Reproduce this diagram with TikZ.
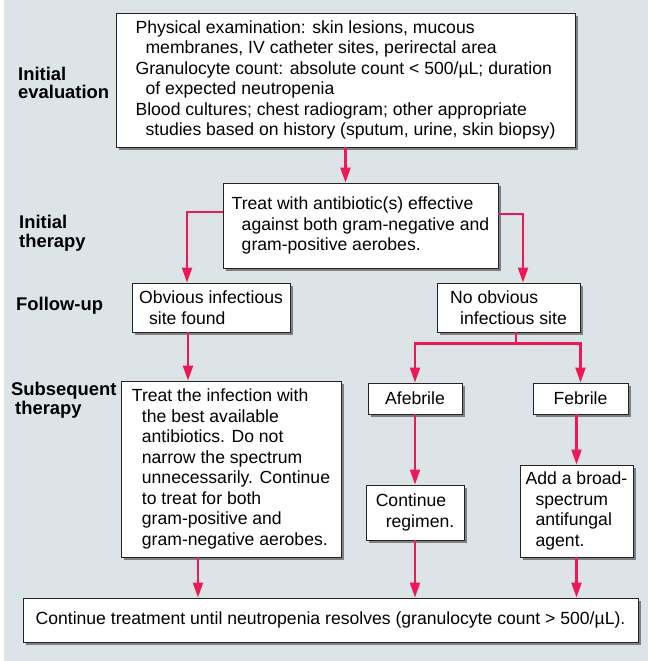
\documentclass[tikz,border=0pt]{standalone}
\usepackage{fontspec}
\setmainfont{Liberation Sans}
\usetikzlibrary{arrows.meta, positioning, shadows}
\definecolor{panelgray}{RGB}{221,228,232}
\definecolor{flowred}{RGB}{236,25,85}
\definecolor{shadowgray}{RGB}{125,128,132}
\definecolor{edgegray}{RGB}{35,35,35}
\newcommand{\ind}{\hspace*{10pt}}

\begin{document}
\begin{tikzpicture}[
  x=1pt, y=-1pt,
  box/.style={rectangle, draw=edgegray, line width=0.9pt, fill=white,
              align=left, inner sep=0pt,
              font=\fontsize{17.6}{20.5}\selectfont,
              drop shadow={shadow xshift=3pt, shadow yshift=-3pt, fill=shadowgray, opacity=1}},
  stage/.style={anchor=west, align=left, inner sep=0pt,
                font=\bfseries\fontsize{18.4}{18.5}\selectfont},
  arrow/.style={-{Triangle[length=15pt, width=10pt]}, line width=2.2pt, color=flowred}
]
  \useasboundingbox (0,0) rectangle (648,661);
  \fill[panelgray] (4,0) rectangle (648,661);

  % Boxes
  \node[box, minimum width=459pt, minimum height=134pt] (exam) at (345.5,80)
    {Physical examination: skin lesions, mucous\\
     \ind membranes, IV catheter sites, perirectal area\\
     Granulocyte count: absolute count < 500/µL; duration\\
     \ind of expected neutropenia\\
     Blood cultures; chest radiogram; other appropriate\\
     \ind studies based on history (sputum, urine, skin biopsy)};
  \node[box, minimum width=275pt, minimum height=85pt] (abx) at (360.5,225.5)
    {Treat with antibiotic(s) effective\\
     \ind against both gram-negative and\\
     \ind gram-positive aerobes.};
  \node[box, minimum width=158pt, minimum height=49pt] (site) at (211,307.5)
    {Obvious infectious\\ \ind site found};
  \node[box, minimum width=143pt, minimum height=49pt] (nosite) at (508.5,307.5)
    {No obvious\\ \ind infectious site};
  \node[box, minimum width=220pt, minimum height=176pt] (treat) at (231,469)
    {Treat the infection with\\
     \ind the best available\\
     \ind antibiotics. Do not\\
     \ind narrow the spectrum\\
     \ind unnecessarily. Continue\\
     \ind to treat for both\\
     \ind gram-positive and\\
     \ind gram-negative aerobes.};
  \node[box, minimum width=94pt, minimum height=31pt] (afeb) at (415,398.5) {Afebrile};
  \node[box, minimum width=95pt, minimum height=31pt] (feb) at (580.5,398.5) {Febrile};
  \node[box, minimum width=98pt, minimum height=55pt] (regimen) at (415,512.5)
    {Continue\\ \ind regimen.};
  \node[box, minimum width=113pt, minimum height=92pt] (antifungal) at (576.5,511)
    {Add a broad-\\ \ind spectrum\\ \ind antifungal\\ \ind agent.};
  \node[box, minimum width=615pt, minimum height=44pt] (resolve) at (330.5,620)
    {Continue treatment until neutropenia resolves (granulocyte count > 500/µL).};

  % Stage labels
  \node[stage] (lbleval) at (18,83) {Initial\\evaluation};
  \node[stage] (lblinit) at (19,233) {Initial\\therapy};
  \node[stage] (lblfollow) at (16,306) {Follow-up};
  \node[stage] (lblsubs) at (11,400) {Subsequent\\\hspace*{4pt}therapy};

  % Connectors
  \draw[arrow] (exam.south) -- (exam.south |- abx.north);
  \draw[arrow] ([yshift=13.5pt]abx.west) -| ([xshift=-24pt]site.north);
  \draw[arrow] ([yshift=11.5pt]abx.east) -| ([xshift=14.5pt]nosite.north);
  \draw[arrow] ([xshift=-23pt]site.south) -- ([xshift=-23pt]site.south |- treat.north);
  \draw[line width=2.2pt, flowred, shorten >=-1.1pt] ([xshift=7.5pt]nosite.south) -- ++(0,11) coordinate (split);
  \draw[arrow] (split) -| (afeb.north);
  \draw[arrow] (split) -| (feb.north);
  \draw[arrow] (afeb) -- (regimen);
  \draw[arrow] (antifungal.north |- feb.south) -- (antifungal.north);
  \draw[arrow] ([xshift=-33pt]treat.south) -- ([xshift=-33pt]treat.south |- resolve.north);
  \draw[arrow] (regimen.south) -- (regimen.south |- resolve.north);
  \draw[arrow] (antifungal.south) -- (antifungal.south |- resolve.north);
\end{tikzpicture}
\end{document}
